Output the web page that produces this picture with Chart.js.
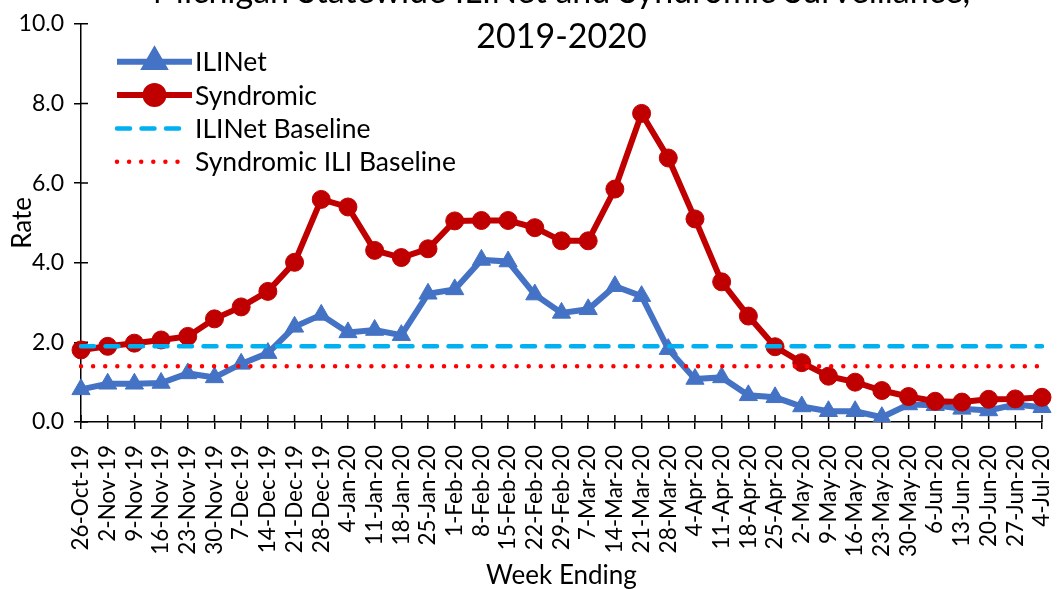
<!DOCTYPE html>
<html>
<head>
<meta charset="utf-8">
<script src="https://cdn.jsdelivr.net/npm/chart.js@4.4.0/dist/chart.umd.min.js"></script>
<style>
  html, body { margin: 0; padding: 0; background: #fff; }
  #wrap { width: 1059px; height: 589px; }
</style>
</head>
<body>
<div id="wrap"><canvas id="chart" width="1059" height="589"></canvas></div>
<script>
'use strict';

// ── DATA ─────────────────────────────────────────────────────────────────────
const weekLabels = [
  '26-Oct-19', '2-Nov-19', '9-Nov-19', '16-Nov-19', '23-Nov-19', '30-Nov-19',
  '7-Dec-19', '14-Dec-19', '21-Dec-19', '28-Dec-19', '4-Jan-20', '11-Jan-20',
  '18-Jan-20', '25-Jan-20', '1-Feb-20', '8-Feb-20', '15-Feb-20', '22-Feb-20',
  '29-Feb-20', '7-Mar-20', '14-Mar-20', '21-Mar-20', '28-Mar-20', '4-Apr-20',
  '11-Apr-20', '18-Apr-20', '25-Apr-20', '2-May-20', '9-May-20', '16-May-20',
  '23-May-20', '30-May-20', '6-Jun-20', '13-Jun-20', '20-Jun-20', '27-Jun-20',
  '4-Jul-20',
];

const iliNet = [
  0.82, 0.96, 0.96, 0.98, 1.22, 1.12, 1.46, 1.73, 2.39, 2.69, 2.25, 2.31,
  2.18, 3.22, 3.33, 4.07, 4.03, 3.20, 2.74, 2.83, 3.41, 3.16, 1.83, 1.08,
  1.12, 0.67, 0.62, 0.39, 0.27, 0.27, 0.12, 0.44, 0.42, 0.33, 0.29, 0.44,
  0.37,
];

const syndromic = [
  1.81, 1.90, 1.98, 2.06, 2.15, 2.59, 2.89, 3.28, 4.01, 5.59, 5.40, 4.31,
  4.13, 4.35, 5.05, 5.06, 5.06, 4.88, 4.55, 4.55, 5.85, 7.75, 6.63, 5.10,
  3.52, 2.66, 1.89, 1.49, 1.15, 1.00, 0.79, 0.64, 0.52, 0.50, 0.57, 0.58,
  0.62,
];

const iliNetBaseline = [
  1.9, 1.9, 1.9, 1.9, 1.9, 1.9, 1.9, 1.9, 1.9, 1.9, 1.9, 1.9, 1.9, 1.9,
  1.9, 1.9, 1.9, 1.9, 1.9, 1.9, 1.9, 1.9, 1.9, 1.9, 1.9, 1.9, 1.9, 1.9,
  1.9, 1.9, 1.9, 1.9, 1.9, 1.9, 1.9, 1.9, 1.9,
];

const syndromicBaseline = [
  1.4, 1.4, 1.4, 1.4, 1.4, 1.4, 1.4, 1.4, 1.4, 1.4, 1.4, 1.4, 1.4, 1.4,
  1.4, 1.4, 1.4, 1.4, 1.4, 1.4, 1.4, 1.4, 1.4, 1.4, 1.4, 1.4, 1.4, 1.4,
  1.4, 1.4, 1.4, 1.4, 1.4, 1.4, 1.4, 1.4, 1.4,
];

const titleLines = ['Michigan Statewide ILINet and Syndromic Surveillance,', '2019-2020'];

// ── THEME ────────────────────────────────────────────────────────────────────
const FONT = 'Lato, "Open Sans", sans-serif';
Chart.defaults.font.family = FONT;
Chart.defaults.color = '#000';

// Excel-style title, overlapping the top of the plot
const overlayTitle = {
  id: 'overlayTitle',
  afterDraw(chart) {
    const { ctx, chartArea } = chart;
    const cx = (chartArea.left + chartArea.right) / 2;
    ctx.save();
    ctx.font = `34px ${FONT}`;
    ctx.fillStyle = '#000';
    ctx.textAlign = 'center';
    ctx.textBaseline = 'alphabetic';
    ctx.fillText(titleLines[0], cx, 3);
    ctx.fillText(titleLines[1], cx, 48);
    ctx.restore();
  },
};

// Tick marks crossing the axis (inner half; the outer half is the grid tick)
const crossTicks = {
  id: 'crossTicks',
  beforeDatasetsDraw(chart) {
    const { ctx } = chart;
    const xs = chart.scales.x, ys = chart.scales.y;
    ctx.save();
    ctx.strokeStyle = '#000';
    ctx.lineWidth = 1.5;
    ctx.beginPath();
    xs.ticks.forEach((_, i) => {
      const px = xs.getPixelForTick(i);
      ctx.moveTo(px, ys.bottom);
      ctx.lineTo(px, ys.bottom - 7);
    });
    ys.ticks.forEach((_, i) => {
      const py = ys.getPixelForTick(i);
      ctx.moveTo(xs.left, py);
      ctx.lineTo(xs.left + 7, py);
    });
    ctx.stroke();
    ctx.restore();
  },
};

// Legend inside the plot, line + marker samples like Excel
const insideLegend = {
  id: 'insideLegend',
  afterDraw(chart) {
    const { ctx, chartArea } = chart;
    const x0 = chartArea.left + 36;
    const textX = chartArea.left + 114;
    let y = chartArea.top + 38;
    ctx.save();
    chart.data.datasets.forEach(ds => {
      const len = ds.sampleLength || 75;
      ctx.strokeStyle = ds.borderColor;
      ctx.lineWidth = ds.borderWidth;
      ctx.lineCap = ds.borderCapStyle || 'butt';
      ctx.setLineDash(ds.borderDash || []);
      ctx.beginPath();
      ctx.moveTo(x0, y);
      ctx.lineTo(x0 + len, y);
      ctx.stroke();
      ctx.setLineDash([]);
      if (ds.pointRadius > 0) {
        ctx.fillStyle = ds.pointBackgroundColor;
        ctx.strokeStyle = ds.pointBorderColor;
        Chart.helpers.drawPoint(ctx, {
          pointStyle: ds.pointStyle, radius: ds.pointRadius,
          borderWidth: ds.pointBorderWidth, rotation: 0,
        }, x0 + len / 2, y);
      }
      ctx.fillStyle = '#000';
      ctx.font = `26.5px ${FONT}`;
      ctx.textAlign = 'left';
      ctx.textBaseline = 'middle';
      ctx.fillText(ds.label, textX, y + 1);
      y += 33.3;
    });
    ctx.restore();
  },
};

// ── CHART ────────────────────────────────────────────────────────────────────
new Chart(document.getElementById('chart'), {
  type: 'line',
  data: {
    labels: weekLabels,
    datasets: [
      {
        label: 'ILINet',
        data: iliNet,
        borderColor: '#4472C4',
        borderWidth: 6,
        pointStyle: 'triangle',
        pointRadius: 10.5,
        pointBackgroundColor: '#4472C4',
        pointBorderColor: '#4472C4',
        pointBorderWidth: 1,
        tension: 0,
        order: 4,
      },
      {
        label: 'Syndromic',
        data: syndromic,
        borderColor: '#C00000',
        borderWidth: 6,
        pointStyle: 'circle',
        pointRadius: 9,
        pointBackgroundColor: '#C00000',
        pointBorderColor: '#C00000',
        pointBorderWidth: 1,
        tension: 0,
        order: 3,
      },
      {
        label: 'ILINet Baseline',
        data: iliNetBaseline,
        borderColor: '#00B0F0',
        borderWidth: 4.5,
        borderDash: [13, 11.5],
        borderCapStyle: 'round',
        pointRadius: 0,
        sampleLength: 64,
        order: 2,
      },
      {
        label: 'Syndromic ILI Baseline',
        data: syndromicBaseline,
        borderColor: '#FF0000',
        borderWidth: 4.5,
        borderDash: [0, 12.1],
        borderCapStyle: 'round',
        pointRadius: 0,
        sampleLength: 66,
        order: 1,
      },
    ],
  },
  options: {
    responsive: false,
    animation: false,
    layout: { padding: { top: 21, right: 17, bottom: 0, left: 0 } },
    plugins: {
      legend: { display: false },
      tooltip: { enabled: false },
    },
    scales: {
      x: {
        offset: false,
        border: { display: true, color: '#000', width: 1.5 },
        grid: { drawOnChartArea: false, drawTicks: true, tickLength: 7, color: '#000', lineWidth: 1.5 },
        ticks: {
          autoSkip: false, maxRotation: 90, minRotation: 90,
          padding: 16, color: '#000', font: { size: 22.5 },
        },
        title: {
          display: true, text: 'Week Ending', color: '#000',
          font: { size: 26, lineHeight: 1 }, padding: { top: 0, bottom: 0 },
        },
        afterFit(scale) {
          scale.height = 589 - 422;
          scale.paddingLeft = 0;
          scale.paddingRight = 0;
        },
      },
      y: {
        min: 0, max: 10,
        border: { display: true, color: '#000', width: 1.5 },
        grid: { drawOnChartArea: false, drawTicks: true, tickLength: 7, color: '#000', lineWidth: 1.5 },
        ticks: {
          stepSize: 2, padding: 10, color: '#000', font: { size: 23 },
          callback: v => v.toFixed(1),
        },
        title: {
          display: true, text: 'Rate', color: '#000',
          font: { size: 26, lineHeight: 1 }, padding: { top: 10, bottom: 0 },
        },
        afterFit(scale) { scale.width = 81; },
      },
    },
  },
  plugins: [crossTicks, insideLegend, overlayTitle],
});
</script>
</body>
</html>
